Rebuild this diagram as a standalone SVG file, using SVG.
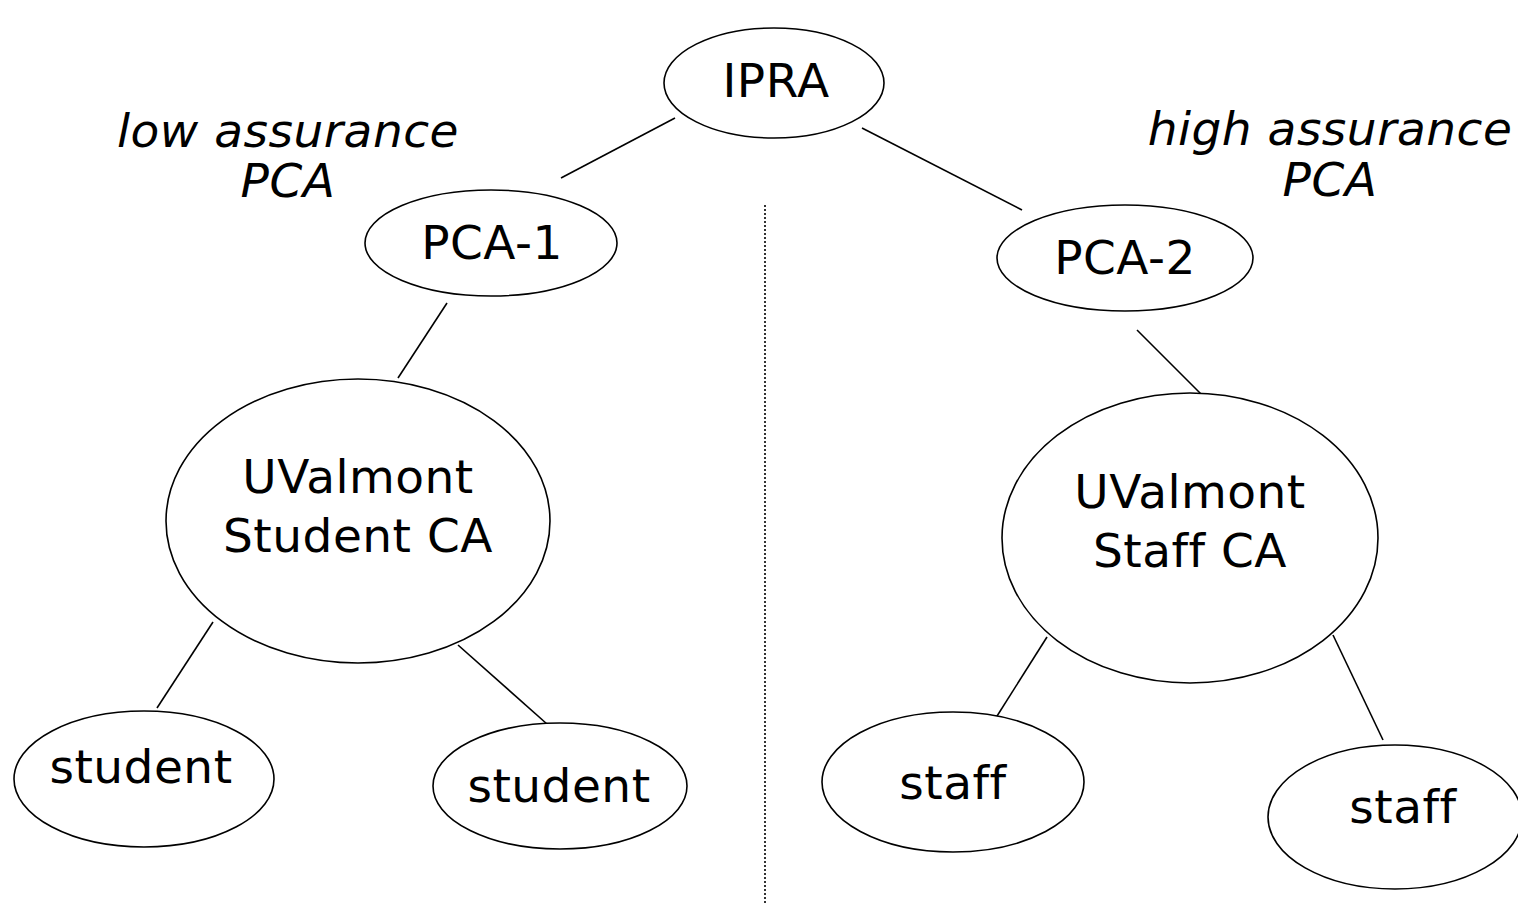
<svg xmlns="http://www.w3.org/2000/svg" width="1518" height="903" viewBox="0 0 1518 903">
<style>
.n{fill:#fff;stroke:#000;stroke-width:1.6}
.t{font-family:"DejaVu Sans",Verdana,sans-serif;font-size:47px;letter-spacing:0.5px;fill:#000;text-anchor:middle}
.i{font-style:italic}
.c line{stroke:#000;stroke-width:1.6}
</style>
<rect width="1518" height="903" fill="#fff"/>
<g class="c" id="connectors">
<line x1="675" y1="118" x2="561" y2="178"/>
<line x1="862" y1="128" x2="1022" y2="210"/>
<line x1="447" y1="303" x2="398" y2="378"/>
<line x1="1137" y1="330" x2="1202" y2="395"/>
<line x1="213" y1="622" x2="157" y2="708"/>
<line x1="458" y1="645" x2="547" y2="724"/>
<line x1="1047" y1="637" x2="992" y2="724"/>
<line x1="1333" y1="635" x2="1383" y2="740"/>
<line x1="765" y1="205" x2="765" y2="903" stroke-dasharray="2 2" stroke-width="1.2"/>
</g>
<g id="labels">
<text class="t i" x="288" y="147">low assurance</text>
<text class="t i" x="288" y="197">PCA</text>
<text class="t i" x="1330" y="145">high assurance</text>
<text class="t i" x="1330" y="196">PCA</text>
</g>
<g id="ipra"><ellipse class="n" cx="774" cy="83" rx="110" ry="55"/><text class="t" x="776" y="97">IPRA</text></g>
<g id="pca1"><ellipse class="n" cx="491" cy="243" rx="126" ry="53"/><text class="t" x="492" y="259">PCA-1</text></g>
<g id="pca2"><ellipse class="n" cx="1125" cy="258" rx="128" ry="53"/><text class="t" x="1125" y="274">PCA-2</text></g>
<g id="studentca"><ellipse class="n" cx="358" cy="521" rx="192" ry="142"/><text class="t" x="358" y="493">UValmont</text><text class="t" x="358" y="552">Student CA</text></g>
<g id="staffca"><ellipse class="n" cx="1190" cy="538" rx="188" ry="145"/><text class="t" x="1190" y="508">UValmont</text><text class="t" x="1190" y="567">Staff CA</text></g>
<g id="student1"><ellipse class="n" cx="144" cy="779" rx="130" ry="68"/><text class="t" x="141" y="783">student</text></g>
<g id="student2"><ellipse class="n" cx="560" cy="786" rx="127" ry="63"/><text class="t" x="559" y="802">student</text></g>
<g id="staff1"><ellipse class="n" cx="953" cy="782" rx="131" ry="70"/><text class="t" x="953" y="799">staff</text></g>
<g id="staff2"><ellipse class="n" cx="1395" cy="817" rx="127" ry="72"/><text class="t" x="1403" y="823">staff</text></g>
</svg>
